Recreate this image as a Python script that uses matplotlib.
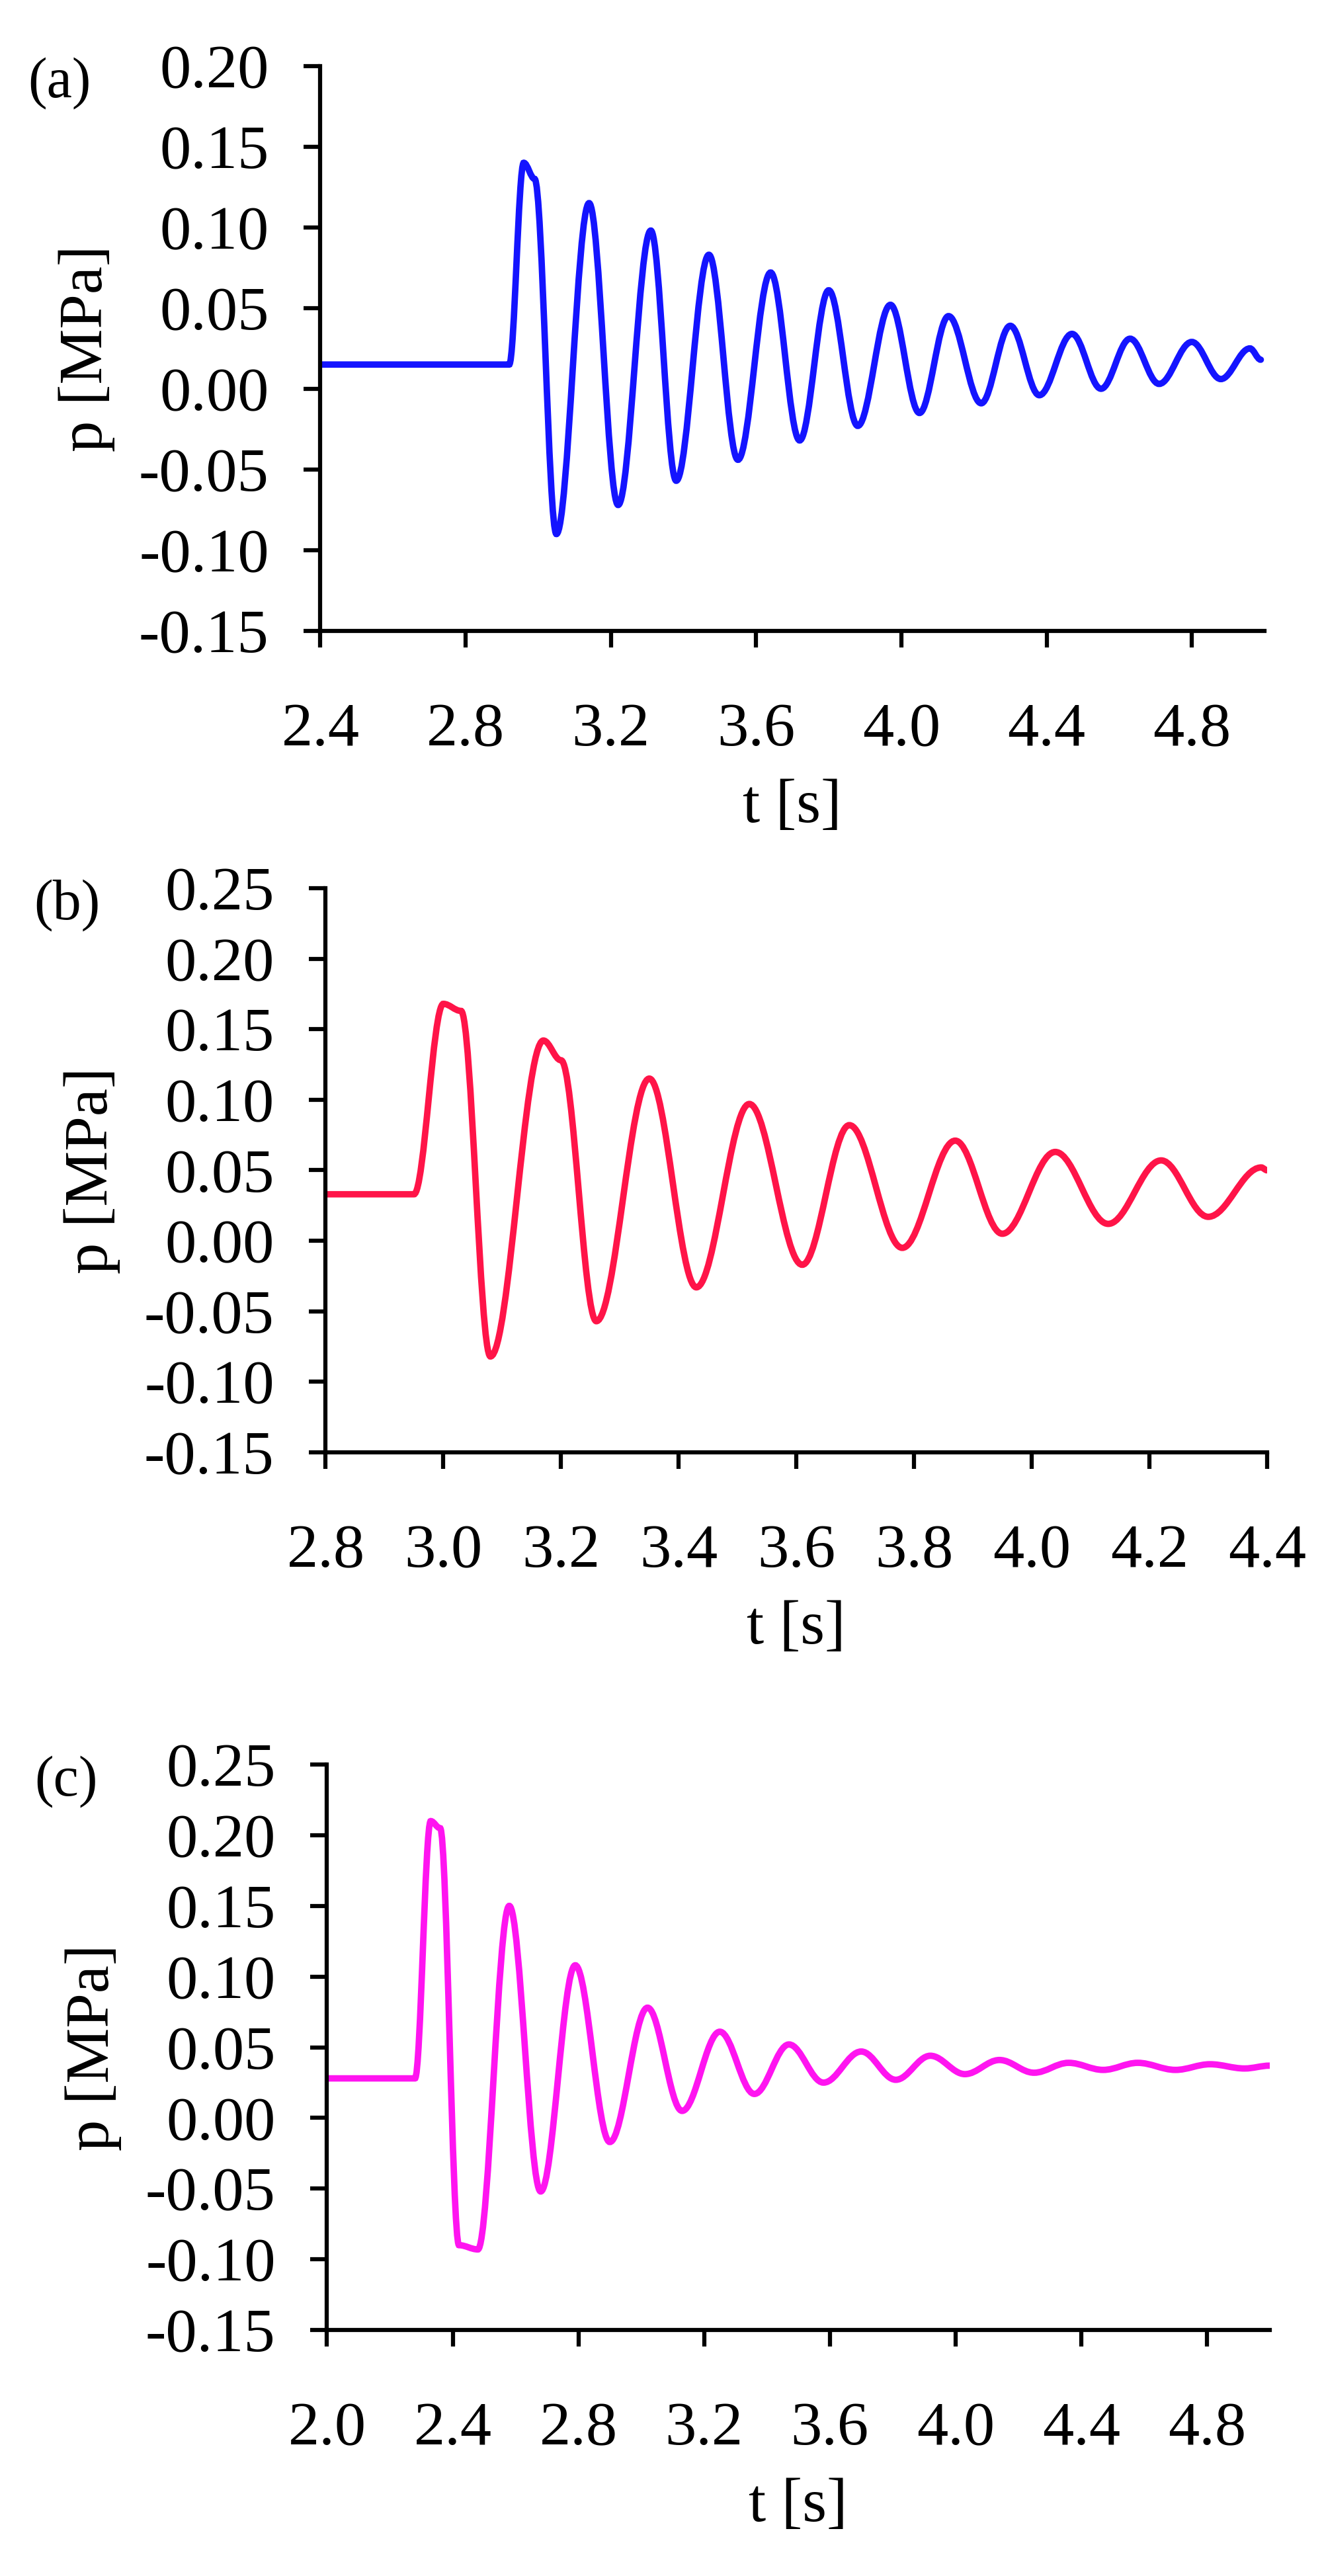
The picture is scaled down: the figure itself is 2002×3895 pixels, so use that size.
import matplotlib
matplotlib.use("Agg")
import matplotlib.pyplot as plt
from matplotlib.path import Path
from matplotlib.patches import PathPatch

plt.rcParams["font.family"] = ["Liberation Serif", "DejaVu Serif"]

# extrema (t [s], p [MPa])
t_a = [2.40, 2.92, 2.96, 2.99, 3.05, 3.14, 3.22, 3.31, 3.38, 3.47, 3.55, 3.64, 3.72,
       3.80, 3.88, 3.97, 4.05, 4.13, 4.22, 4.30, 4.38, 4.47, 4.55, 4.63, 4.71, 4.80,
       4.88, 4.96, 4.99]
p_a = [0.015, 0.015, 0.140, 0.130, -0.090, 0.115, -0.072, 0.098, -0.057, 0.083, -0.044,
       0.072, -0.032, 0.061, -0.023, 0.052, -0.015, 0.045, -0.009, 0.039, -0.004, 0.034,
       0.000, 0.031, 0.003, 0.029, 0.006, 0.025, 0.018]

t_b = [2.80, 2.95, 3.00, 3.03, 3.08, 3.17, 3.20, 3.26, 3.35, 3.43, 3.52, 3.61, 3.69,
       3.78, 3.87, 3.95, 4.04, 4.13, 4.22, 4.30, 4.39, 4.40]
p_b = [0.033, 0.033, 0.168, 0.163, -0.082, 0.142, 0.128, -0.057, 0.115, -0.033, 0.097,
       -0.017, 0.082, -0.005, 0.071, 0.005, 0.063, 0.012, 0.057, 0.017, 0.052, 0.050]

t_c = [2.00, 2.28, 2.33, 2.36, 2.42, 2.48, 2.58, 2.68, 2.79, 2.90, 3.02, 3.13, 3.25,
       3.36, 3.47, 3.58, 3.70, 3.81, 3.92, 4.03, 4.14, 4.25, 4.36, 4.47, 4.58, 4.70,
       4.81, 4.92, 5.00]
p_c = [0.028, 0.028, 0.210, 0.205, -0.090, -0.093, 0.150, -0.052, 0.108, -0.017, 0.078,
       0.005, 0.061, 0.017, 0.052, 0.025, 0.047, 0.027, 0.044, 0.031, 0.041, 0.032,
       0.039, 0.034, 0.039, 0.034, 0.038, 0.035, 0.037]

panels = [
    dict(t=t_a, p=p_a, color="#1414ff", label="(a)", rect=[0.242, 0.7551, 0.713, 0.2193],
         xlim=(2.4, 5.0), xticks=[2.4, 2.8, 3.2, 3.6, 4.0, 4.4, 4.8],
         yticks=[-0.15, -0.10, -0.05, 0.0, 0.05, 0.10, 0.15, 0.20]),
    dict(t=t_b, p=p_b, color="#ff1448", label="(b)", rect=[0.246, 0.4362, 0.711, 0.219],
         xlim=(2.8, 4.4), xticks=[2.8, 3.0, 3.2, 3.4, 3.6, 3.8, 4.0, 4.2, 4.4],
         yticks=[-0.15, -0.10, -0.05, 0.0, 0.05, 0.10, 0.15, 0.20, 0.25]),
    dict(t=t_c, p=p_c, color="#ff14f0", label="(c)", rect=[0.247, 0.0955, 0.712, 0.2195],
         xlim=(2.0, 5.0), xticks=[2.0, 2.4, 2.8, 3.2, 3.6, 4.0, 4.4, 4.8],
         yticks=[-0.15, -0.10, -0.05, 0.0, 0.05, 0.10, 0.15, 0.20, 0.25]),
]

fig = plt.figure(figsize=(20.02, 38.95), dpi=100)

for pn in panels:
    ax = fig.add_axes(pn["rect"])
    t, p = pn["t"], pn["p"]
    # smooth curve: cubic segments with flat tangents at each extremum
    verts = [(t[0], p[0])]
    codes = [Path.MOVETO]
    for i in range(1, len(t)):
        dt = t[i] - t[i - 1]
        verts += [(t[i - 1] + 0.36 * dt, p[i - 1]), (t[i] - 0.36 * dt, p[i]), (t[i], p[i])]
        codes += [Path.CURVE4] * 3
    ax.add_patch(PathPatch(Path(verts, codes), facecolor="none",
                           edgecolor=pn["color"], lw=7, capstyle="round"))
    ax.set_xlim(*pn["xlim"])
    ax.set_ylim(-0.15, pn["yticks"][-1])
    ax.set_xticks(pn["xticks"])
    ax.set_xticklabels([f"{v:.1f}" for v in pn["xticks"]])
    ax.set_yticks(pn["yticks"])
    ax.set_yticklabels([f"{v:.2f}" for v in pn["yticks"]])
    for s in ["top", "right"]:
        ax.spines[s].set_visible(False)
    for s in ["left", "bottom"]:
        ax.spines[s].set_linewidth(4.5)
    ax.tick_params(axis="both", direction="out", length=18, width=4.5, labelsize=68)
    ax.tick_params(axis="x", pad=60)
    ax.tick_params(axis="y", pad=38)
    ax.set_xlabel("t [s]", fontsize=68, labelpad=22)
    ax.set_ylabel("p [MPa]", fontsize=68, labelpad=26)
    ax.text(-0.31, 0.97, pn["label"], transform=ax.transAxes, fontsize=62,
            ha="left", va="center")

fig.savefig("out.png", dpi=100, facecolor="white")
